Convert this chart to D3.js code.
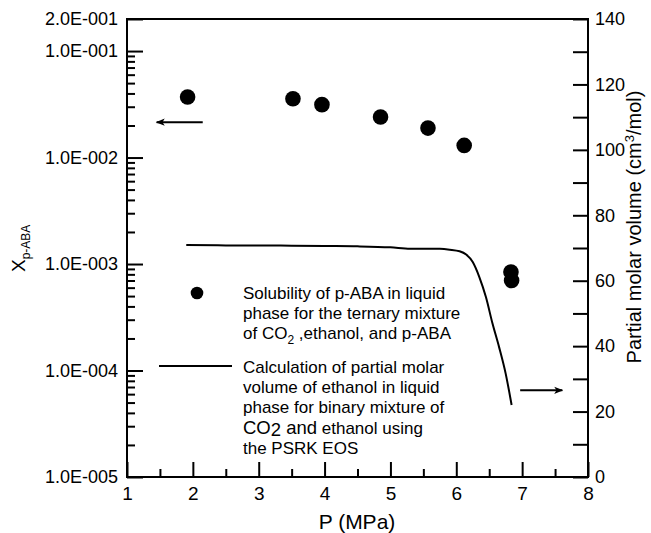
<!DOCTYPE html>
<html>
<head>
<meta charset="utf-8">
<script src="https://cdn.jsdelivr.net/npm/d3@7"></script>
<style>
  html, body { margin: 0; padding: 0; background: #fff; }
  svg { display: block; font-family: "Liberation Sans", Arial, Helvetica, sans-serif; }
</style>
</head>
<body>
<svg id="chart" width="651" height="533"></svg>
<script>
// Measured solubility of p-ABA (left, log axis)
const solP = [1.92, 3.52, 3.96, 4.85, 5.57, 6.12, 6.83, 6.84];
const solX = [0.037, 0.0357, 0.0314, 0.024, 0.0189, 0.013, 0.00084, 0.00070];

// PSRK partial molar volume of ethanol (right axis)
const volP = [1.9, 2.5, 3.0, 3.5, 4.0, 4.5, 5.0, 5.3, 5.75, 5.9, 6.05, 6.15, 6.25, 6.35, 6.45, 6.55, 6.65, 6.75, 6.84];
const volV = [70.9, 70.8, 70.8, 70.7, 70.6, 70.5, 70.2, 69.8, 69.75, 69.5, 69.0, 68.0, 65.7, 61.1, 55.0, 46.9, 39.7, 31.6, 22.0];

// Axis ticks
const xTicks = [1, 2, 3, 4, 5, 6, 7, 8];
const xMinor = [1.5, 2.5, 3.5, 4.5, 5.5, 6.5, 7.5];
const yLeftTicks = [1e-5, 1e-4, 1e-3, 1e-2, 1e-1, 2e-1];
const yLeftLabels = ["1.0E-005", "1.0E-004", "1.0E-003", "1.0E-002", "1.0E-001", "2.0E-001"];
const yRightTicks = [0, 20, 40, 60, 80, 100, 120, 140];
const yRightMinor = [10, 30, 50, 70, 90, 110, 130];

const L = 127, R = 588, T = 19, B = 477;
const svg = d3.select("#chart");

const x = d3.scaleLinear().domain([1, 8]).range([L, R]);
const yL = d3.scaleLog().domain([1e-5, 0.2]).range([B, T]);
const yR = d3.scaleLinear().domain([0, 140]).range([B, T]);

// minor ticks for log axis: 2..9 within each decade
const yLeftMinor = [];
for (let e = -5; e <= -1; e++) {
  for (let m = 2; m <= 9; m++) {
    const v = m * Math.pow(10, e);
    if (v < 0.2) yLeftMinor.push(v);
  }
}

function styleAxis(g, fontSize) {
  g.select(".domain").remove();
  g.selectAll(".tick line").attr("stroke", "#000").attr("stroke-width", 2);
  g.selectAll(".tick text").attr("fill", "#000").attr("font-size", fontSize)
    .attr("font-family", "'Liberation Sans', Arial, sans-serif");
}

// Left log axis
svg.append("g").attr("transform", `translate(${L},0)`)
  .call(d3.axisLeft(yL).tickValues(yLeftTicks)
    .tickFormat((d, i) => yLeftLabels[i]).tickSizeInner(-16).tickSizeOuter(0).tickPadding(9))
  .call(g => styleAxis(g, 18));
svg.append("g").attr("transform", `translate(${L},0)`)
  .call(d3.axisLeft(yL).tickValues(yLeftMinor).tickFormat("").tickSizeInner(-8).tickSizeOuter(0))
  .call(g => styleAxis(g, 18));

// Bottom axis
svg.append("g").attr("transform", `translate(0,${B})`)
  .call(d3.axisBottom(x).tickValues(xTicks).tickFormat(d3.format("d"))
    .tickSizeInner(-15).tickSizeOuter(0).tickPadding(10))
  .call(g => styleAxis(g, 19));
svg.append("g").attr("transform", `translate(0,${B})`)
  .call(d3.axisBottom(x).tickValues(xMinor).tickFormat("").tickSizeInner(-8).tickSizeOuter(0))
  .call(g => styleAxis(g, 19));

// Right axis
svg.append("g").attr("transform", `translate(${R},0)`)
  .call(d3.axisRight(yR).tickValues(yRightTicks).tickFormat(d3.format("d"))
    .tickSizeInner(-15).tickSizeOuter(0).tickPadding(7))
  .call(g => styleAxis(g, 18));
svg.append("g").attr("transform", `translate(${R},0)`)
  .call(d3.axisRight(yR).tickValues(yRightMinor).tickFormat("").tickSizeInner(-15).tickSizeOuter(0))
  .call(g => styleAxis(g, 18));

// Frame
svg.append("rect").attr("x", L).attr("y", T).attr("width", R - L).attr("height", B - T)
  .attr("fill", "none").attr("stroke", "#000").attr("stroke-width", 2);

// Volume curve
const volData = volP.map((p, i) => [p, volV[i]]);
svg.append("path").datum(volData)
  .attr("fill", "none").attr("stroke", "#000").attr("stroke-width", 2)
  .attr("d", d3.line().x(d => x(d[0])).y(d => yR(d[1])).curve(d3.curveMonotoneX));

// Solubility points
svg.append("g").selectAll("circle").data(solP.map((p, i) => [p, solX[i]]))
  .join("circle")
  .attr("cx", d => x(d[0])).attr("cy", d => yL(d[1])).attr("r", 7.8).attr("fill", "#000");

// Arrows pointing to each series' axis
const defs = svg.append("defs");
defs.append("marker").attr("id", "head").attr("viewBox", "0 0 10 10")
  .attr("refX", 9).attr("refY", 5).attr("markerWidth", 10).attr("markerHeight", 9)
  .attr("markerUnits", "userSpaceOnUse").attr("orient", "auto")
  .append("path").attr("d", "M0,1 L10,5 L0,9 L2.5,5 Z").attr("fill", "#000");

svg.append("line").attr("x1", x(2.15)).attr("y1", yL(0.0215)).attr("x2", x(1.45)).attr("y2", yL(0.0215))
  .attr("stroke", "#000").attr("stroke-width", 2).attr("marker-end", "url(#head)");
svg.append("line").attr("x1", x(6.97)).attr("y1", yR(26.5)).attr("x2", x(7.61)).attr("y2", yR(26.5))
  .attr("stroke", "#000").attr("stroke-width", 2).attr("marker-end", "url(#head)");

// Legend
const leg = svg.append("g").attr("font-size", 17).attr("fill", "#000");
leg.append("circle").attr("cx", 197).attr("cy", 293).attr("r", 6.3).attr("fill", "#000");
const t1 = leg.append("text").attr("x", 243).attr("y", 299);
t1.append("tspan").attr("x", 243).attr("y", 299).text("Solubility of p-ABA in liquid");
t1.append("tspan").attr("x", 243).attr("y", 319).text("phase for the ternary mixture");
t1.append("tspan").attr("x", 243).attr("y", 339).text("of CO");
t1.append("tspan").attr("dy", 5).attr("font-size", 12).text("2");
t1.append("tspan").attr("dy", -5).text(" ,ethanol, and p-ABA");

leg.append("line").attr("x1", 159).attr("x2", 232).attr("y1", 366).attr("y2", 366)
  .attr("stroke", "#000").attr("stroke-width", 2);
const t2 = leg.append("text");
t2.append("tspan").attr("x", 243).attr("y", 373).text("Calculation of partial molar");
t2.append("tspan").attr("x", 243).attr("y", 393).text("volume of ethanol in liquid");
t2.append("tspan").attr("x", 243).attr("y", 413).text("phase for binary mixture of");
t2.append("tspan").attr("x", 243).attr("y", 434).attr("font-size", 18.5).text("CO");
t2.append("tspan").attr("dy", 2).attr("font-size", 18.5).text("2");
t2.append("tspan").attr("dy", -2).attr("font-size", 18.5).text(" and");
t2.append("tspan").text(" ethanol using");
t2.append("tspan").attr("x", 243).attr("y", 454).text("the PSRK EOS");

// Axis titles
svg.append("text").attr("x", 357).attr("y", 529).attr("text-anchor", "middle")
  .attr("font-size", 21).text("P (MPa)");

const yt = svg.append("text").attr("transform", "translate(25,272) rotate(-90)")
  .attr("text-anchor", "start").attr("font-size", 19);
yt.append("tspan").text("X");
yt.append("tspan").attr("dy", 5).attr("font-size", 12).text("p-ABA");

const rt = svg.append("text").attr("transform", "translate(641,227) rotate(-90)")
  .attr("text-anchor", "middle").attr("font-size", 20);
rt.append("tspan").text("Partial molar volume (cm");
rt.append("tspan").attr("dy", -7).attr("font-size", 13).text("3");
rt.append("tspan").attr("dy", 7).text("/mol)");
</script>
</body>
</html>
